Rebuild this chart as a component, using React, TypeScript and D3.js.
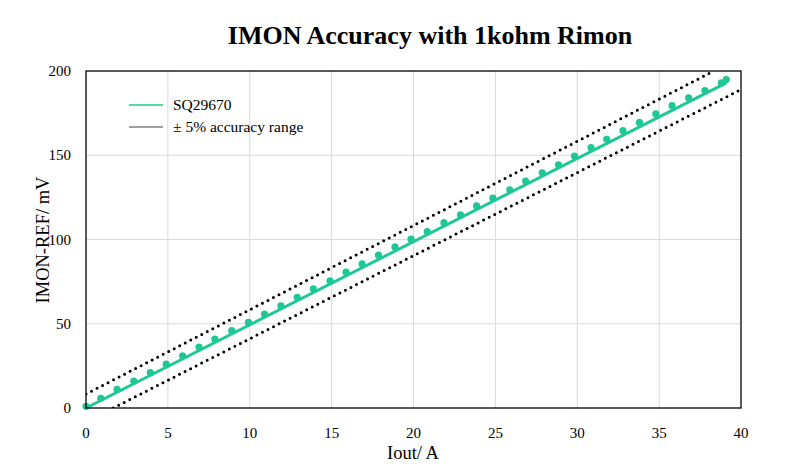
import React, { useRef, useEffect } from "react";
import * as d3 from "d3";

// measured IMON-REF vs Iout
const ioutValues = [
  0, 0.9, 1.9, 2.92, 3.93, 4.9, 5.9, 6.9, 7.87, 8.9, 9.92, 10.9, 11.9, 12.9,
  13.88, 14.9, 15.88, 16.86, 17.86, 18.87, 19.85, 20.84, 21.86, 22.87, 23.85,
  24.85, 25.88, 26.85, 27.86, 28.85, 29.83, 30.84, 31.8, 32.79, 33.8, 34.8,
  35.79, 36.8, 37.8, 38.8, 39.1,
];
const imonValues = [
  1, 5.8, 11, 16, 21, 26, 31, 36.2, 40.9, 45.9, 50.8, 55.8, 60.6, 65.7, 70.7,
  75.5, 80.6, 85.5, 90.7, 95.6, 100.2, 104.7, 110, 114.6, 119.9, 124.5, 129.5,
  134.7, 139.6, 144.3, 149.5, 154.5, 159.5, 164.6, 169.5, 174.5, 179.4, 184.1,
  188.4, 192.9, 194.9,
];

// fitted line and +/-5% bounds (end points)
const fitX = [0, 39.1];
const fitY = [0, 193];
const upperX = [0, 38.34];
const upperY = [8.3, 200];
const lowerX = [1.66, 40];
const lowerY = [0, 189];

const xTicks = [0, 5, 10, 15, 20, 25, 30, 35, 40];
const yTicks = [0, 50, 100, 150, 200];

const seriesName = "SQ29670";
const rangeName = "± 5% accuracy range";
const title = "IMON Accuracy with 1kohm Rimon";

const App: React.FC = () => {
  const svgRef = useRef<SVGSVGElement | null>(null);

  useEffect(() => {
    document.body.style.margin = "0";
    const width = 789;
    const height = 472;
    const margin = { top: 71, right: 48, bottom: 64, left: 86 };
    const w = width - margin.left - margin.right;
    const h = height - margin.top - margin.bottom;
    const font = "'Liberation Serif', 'Times New Roman', serif";
    const green = "#1ec896";

    const svg = d3.select(svgRef.current);
    svg.selectAll("*").remove();
    svg.attr("width", width).attr("height", height);

    svg.append("rect").attr("width", width).attr("height", height).attr("fill", "#fff");

    const x = d3.scaleLinear().domain([0, 40]).range([0, w]);
    const y = d3.scaleLinear().domain([0, 200]).range([h, 0]);

    const chart = svg
      .append("g")
      .attr("transform", `translate(${margin.left},${margin.top})`);

    // grid
    chart
      .selectAll(".vgrid")
      .data(xTicks.slice(1, -1))
      .enter()
      .append("line")
      .attr("x1", (d) => x(d))
      .attr("x2", (d) => x(d))
      .attr("y1", 0)
      .attr("y2", h)
      .attr("stroke", "#d9d9d9")
      .attr("stroke-width", 1);

    chart
      .selectAll(".hgrid")
      .data(yTicks.slice(1, -1))
      .enter()
      .append("line")
      .attr("x1", 0)
      .attr("x2", w)
      .attr("y1", (d) => y(d))
      .attr("y2", (d) => y(d))
      .attr("stroke", "#d9d9d9")
      .attr("stroke-width", 1);

    // clip for bound lines
    svg
      .append("clipPath")
      .attr("id", "plotclip")
      .append("rect")
      .attr("width", w)
      .attr("height", h);

    const line = d3
      .line<[number, number]>()
      .x((d) => x(d[0]))
      .y((d) => y(d[1]));

    const bounds = [
      d3.zip(upperX, upperY) as [number, number][],
      d3.zip(lowerX, lowerY) as [number, number][],
    ];

    chart
      .append("g")
      .attr("clip-path", "url(#plotclip)")
      .selectAll("path")
      .data(bounds)
      .enter()
      .append("path")
      .attr("d", line)
      .attr("fill", "none")
      .attr("stroke", "#000")
      .attr("stroke-width", 3)
      .attr("stroke-linecap", "round")
      .attr("stroke-dasharray", "0 6.2");

    // fit line
    chart
      .append("path")
      .datum(d3.zip(fitX, fitY) as [number, number][])
      .attr("d", line)
      .attr("fill", "none")
      .attr("stroke", green)
      .attr("stroke-width", 3);

    // points
    chart
      .selectAll(".pt")
      .data(d3.zip(ioutValues, imonValues))
      .enter()
      .append("circle")
      .attr("cx", (d) => x(d[0]))
      .attr("cy", (d) => y(d[1]))
      .attr("r", 3.6)
      .attr("fill", green);

    // frame
    chart
      .append("rect")
      .attr("width", w)
      .attr("height", h)
      .attr("fill", "none")
      .attr("stroke", "#000")
      .attr("stroke-width", 1.3);

    // tick labels
    chart
      .selectAll(".xt")
      .data(xTicks)
      .enter()
      .append("text")
      .attr("x", (d) => x(d))
      .attr("y", h + 30)
      .attr("text-anchor", "middle")
      .style("font-family", font)
      .style("font-size", "15px")
      .style("fill", "#000")
      .text((d) => d);

    chart
      .selectAll(".yt")
      .data(yTicks)
      .enter()
      .append("text")
      .attr("x", -15)
      .attr("y", (d) => y(d) + 5)
      .attr("text-anchor", "end")
      .style("font-family", font)
      .style("font-size", "15px")
      .style("fill", "#000")
      .text((d) => d);

    // title
    svg
      .append("text")
      .attr("x", 430)
      .attr("y", 44)
      .attr("text-anchor", "middle")
      .style("font-family", font)
      .style("font-size", "26px")
      .style("font-weight", "bold")
      .style("fill", "#000")
      .text(title);

    // axis labels
    svg
      .append("text")
      .attr("transform", "rotate(-90)")
      .attr("x", -240)
      .attr("y", 49)
      .attr("text-anchor", "middle")
      .style("font-family", font)
      .style("font-size", "18.5px")
      .style("fill", "#000")
      .text("IMON-REF/ mV");

    svg
      .append("text")
      .attr("x", 413)
      .attr("y", 459)
      .attr("text-anchor", "middle")
      .style("font-family", font)
      .style("font-size", "18.5px")
      .style("fill", "#000")
      .text("Iout/ A");

    // legend
    const legend = svg.append("g").attr("transform", "translate(129,105)");
    const items = [
      { name: seriesName, color: green },
      { name: rangeName, color: "#7f7f7f" },
    ];
    items.forEach((it, i) => {
      legend
        .append("line")
        .attr("x1", 0)
        .attr("x2", 34)
        .attr("y1", i * 22)
        .attr("y2", i * 22)
        .attr("stroke", it.color)
        .attr("stroke-width", 1.5);
      legend
        .append("text")
        .attr("x", 44)
        .attr("y", i * 22 + 5)
        .style("font-family", font)
        .style("font-size", "15.5px")
        .style("fill", "#000")
        .text(it.name);
    });
  }, []);

  return (
    <div>
      <svg ref={svgRef}></svg>
    </div>
  );
};

export default App;
